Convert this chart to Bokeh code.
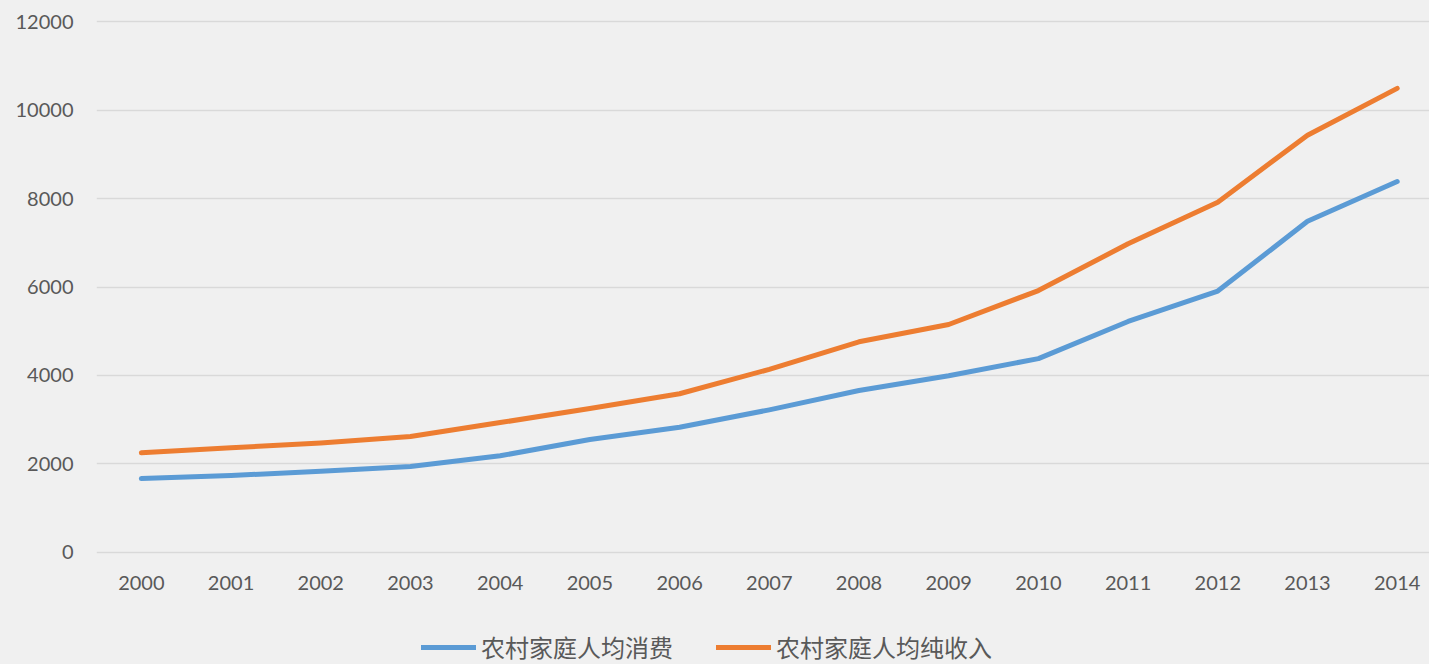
from bokeh.plotting import figure
from bokeh.layouts import column
from bokeh.models import Range1d, FixedTicker, NumeralTickFormatter, Legend, LegendItem
from bokeh.embed import file_html
from bokeh.resources import INLINE

years = [2000, 2001, 2002, 2003, 2004, 2005, 2006, 2007, 2008, 2009, 2010, 2011, 2012, 2013, 2014]
consumption = [1670, 1741, 1834, 1943, 2185, 2555, 2829, 3224, 3661, 3993, 4382, 5221, 5908, 7485, 8383]
net_income = [2253, 2366, 2476, 2622, 2936, 3255, 3587, 4140, 4761, 5153, 5919, 6977, 7917, 9430, 10489]
y_ticks = [0, 2000, 4000, 6000, 8000, 10000, 12000]
series_names = ["农村家庭人均消费", "农村家庭人均纯收入"]
colors = ["#5B9BD5", "#ED7D31"]

BG = "#F0F0F0"
TXT = "#595959"

p = figure(width=1429, height=604, output_backend="svg", toolbar_location=None,
           x_range=Range1d(1999.5, 2014.36), y_range=Range1d(-68, 12068),
           min_border_left=96, min_border_right=0, min_border_top=18, min_border_bottom=49)
p.background_fill_color = BG
p.border_fill_color = BG
p.outline_line_color = None

p.line(years, consumption, line_width=5, line_color=colors[0], line_cap="round", line_join="round")
p.line(years, net_income, line_width=5, line_color=colors[1], line_cap="round", line_join="round")

p.xgrid.grid_line_color = None
p.ygrid.grid_line_color = "#D9D9D9"
p.ygrid.grid_line_width = 1.5
p.yaxis.ticker = FixedTicker(ticks=y_ticks)
p.yaxis.formatter = NumeralTickFormatter(format="0")
p.xaxis.ticker = FixedTicker(ticks=years)

for ax in (p.xaxis[0], p.yaxis[0]):
    ax.axis_line_color = None
    ax.major_tick_line_color = None
    ax.minor_tick_line_color = None
    ax.major_tick_out = 0
    ax.major_tick_in = 0
    ax.major_label_text_font = "Lato"
    ax.major_label_text_font_size = "20px"
    ax.major_label_text_color = TXT
p.yaxis.major_label_standoff = 23
p.xaxis.major_label_standoff = 20

# legend strip (no data drawn, only the key)
lg = figure(width=1429, height=60, output_backend="svg", toolbar_location=None,
            x_axis_type=None, y_axis_type=None, x_range=Range1d(0, 1), y_range=Range1d(0, 1),
            min_border_left=96, min_border_right=0, min_border_top=0, min_border_bottom=0)
lg.background_fill_color = BG
lg.border_fill_color = BG
lg.outline_line_color = None
lg.grid.grid_line_color = None
nan = float("nan")
k1 = lg.line(x=[nan], y=[nan], line_width=5, line_color=colors[0], line_cap="round")
k2 = lg.line(x=[nan], y=[nan], line_width=5, line_color=colors[1], line_cap="round")

legend = Legend(items=[LegendItem(label=series_names[0], renderers=[k1]),
                       LegendItem(label=series_names[1], renderers=[k2])],
                orientation="horizontal", location=(325, 0),
                label_text_font="Noto Sans CJK SC", label_text_font_size="24px",
                label_text_color=TXT, glyph_width=55, glyph_height=24, label_height=24,
                label_standoff=5, spacing=43, padding=0, margin=0,
                border_line_color=None, background_fill_alpha=0)
lg.add_layout(legend, "center")

layout = column(p, lg, spacing=0, styles={"background-color": BG})
open("out.html", "w").write(file_html(layout, INLINE))
